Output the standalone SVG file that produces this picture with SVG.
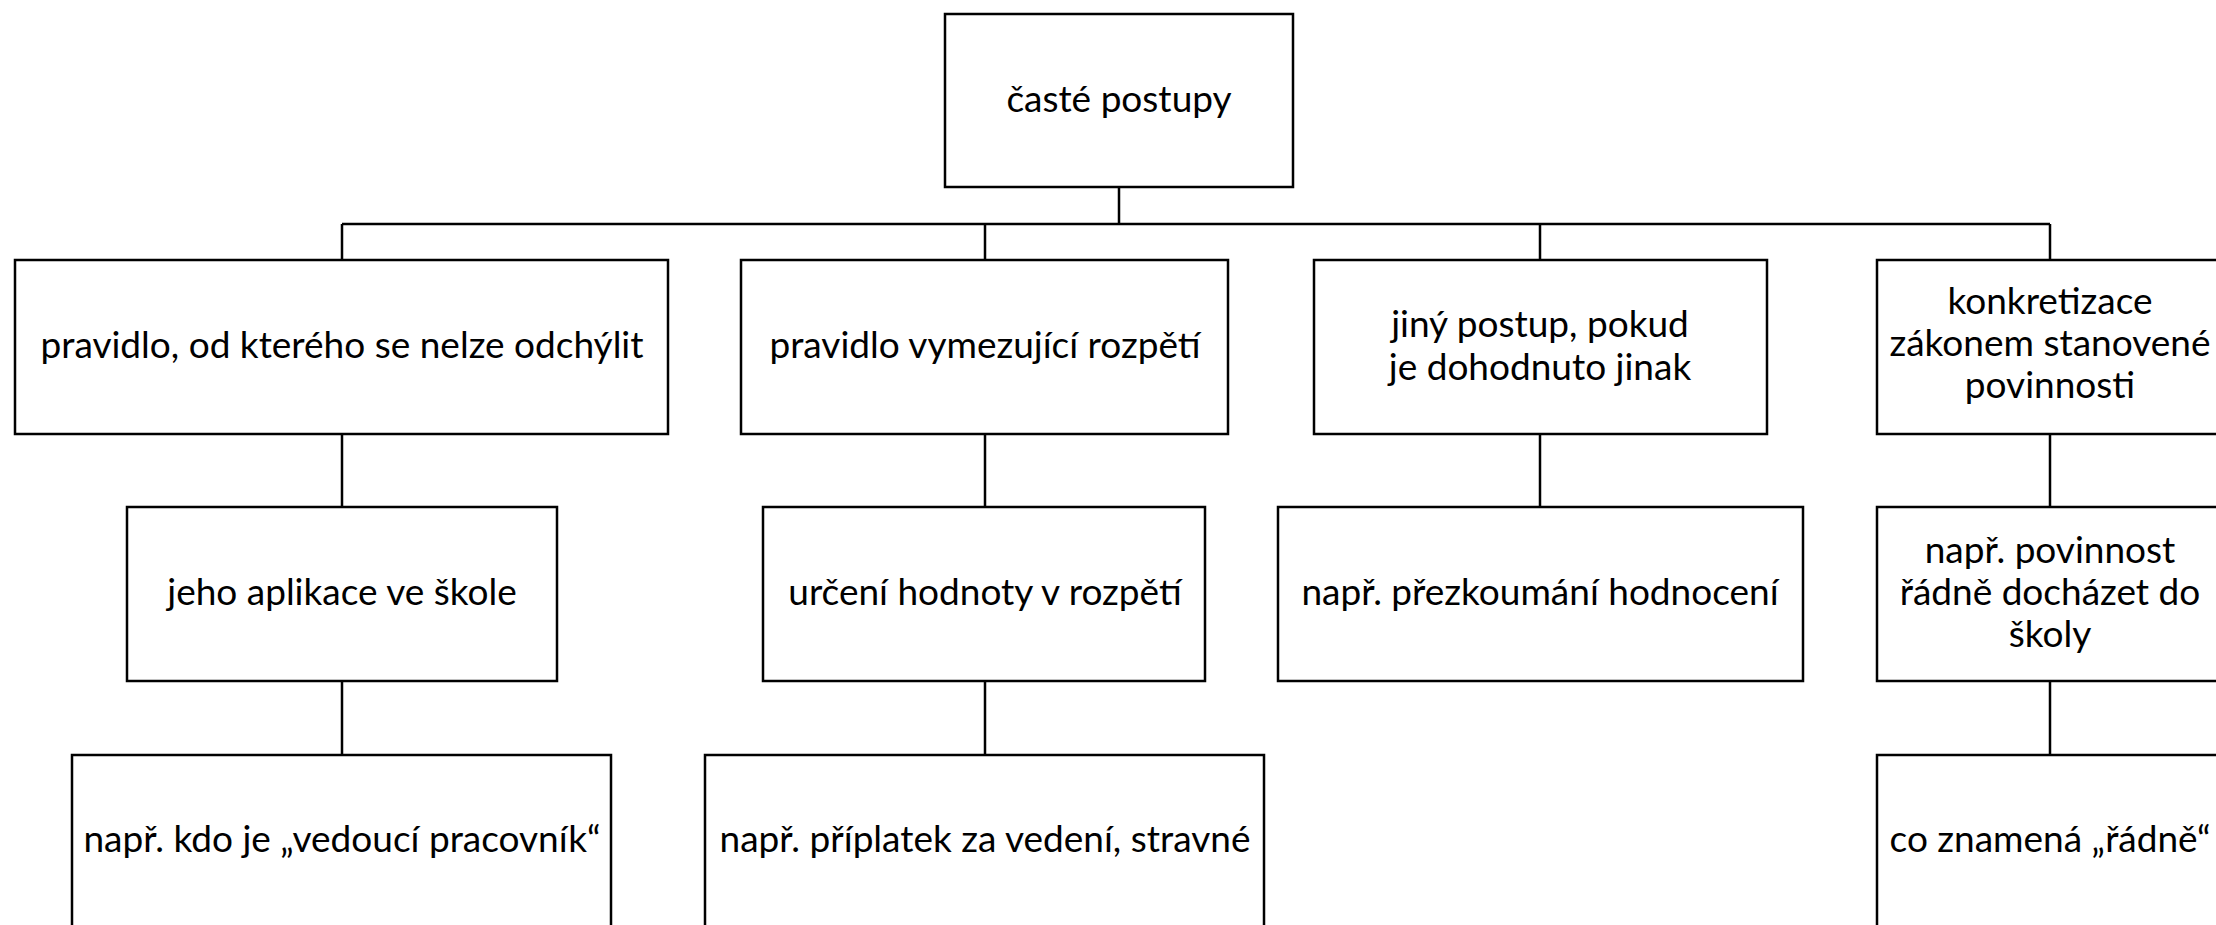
<svg xmlns="http://www.w3.org/2000/svg" width="2216" height="925" viewBox="0 0 2216 925">
<style>
rect.box{fill:#fff;stroke:#000;stroke-width:2.5}
.conn path{fill:none;stroke:#000;stroke-width:2.5}
text{fill:#000;text-anchor:middle;font-family:Lato,"Open Sans",sans-serif;font-size:37px}
</style>
<rect width="2216" height="925" fill="#fff"/>
<g class="conn" id="connectors">
<path d="M1119 187V224M342 224H2050M342 224V260M985 224V260M1540 224V260M2050 224V260"/>
<path d="M342 434V507M342 681V755"/>
<path d="M985 434V507M985 681V755"/>
<path d="M1540 434V507"/>
<path d="M2050 434V507M2050 681V755"/>
</g>
<g id="n0"><rect class="box" x="945" y="14" width="348" height="173"/><text x="1119" y="112">časté postupy</text></g>
<g id="n1"><rect class="box" x="15" y="260" width="653" height="174"/><text x="342" y="358">pravidlo, od kterého se nelze odchýlit</text></g>
<g id="n2"><rect class="box" x="741" y="260" width="487" height="174"/><text x="985" y="358">pravidlo vymezující rozpětí</text></g>
<g id="n3"><rect class="box" x="1314" y="260" width="453" height="174"/><text x="1540" y="337">jiný postup, pokud</text><text x="1540" y="380">je dohodnuto jinak</text></g>
<g id="n4"><rect class="box" x="1877" y="260" width="346" height="174"/><text x="2050" y="314">konkretizace</text><text x="2050" y="356">zákonem stanovené</text><text x="2050" y="398">povinnosti</text></g>
<g id="n5"><rect class="box" x="127" y="507" width="430" height="174"/><text x="342" y="605">jeho aplikace ve škole</text></g>
<g id="n6"><rect class="box" x="763" y="507" width="442" height="174"/><text x="985" y="605">určení hodnoty v rozpětí</text></g>
<g id="n7"><rect class="box" x="1278" y="507" width="525" height="174"/><text x="1540" y="605">např. přezkoumání hodnocení</text></g>
<g id="n8"><rect class="box" x="1877" y="507" width="346" height="174"/><text x="2050" y="563">např. povinnost</text><text x="2050" y="605">řádně docházet do</text><text x="2050" y="647">školy</text></g>
<g id="n9"><rect class="box" x="72" y="755" width="539" height="174"/><text x="342" y="852">např. kdo je „vedoucí pracovník“</text></g>
<g id="n10"><rect class="box" x="705" y="755" width="559" height="174"/><text x="985" y="852">např. příplatek za vedení, stravné</text></g>
<g id="n11"><rect class="box" x="1877" y="755" width="346" height="174"/><text x="2050" y="852">co znamená „řádně“</text></g>
</svg>
